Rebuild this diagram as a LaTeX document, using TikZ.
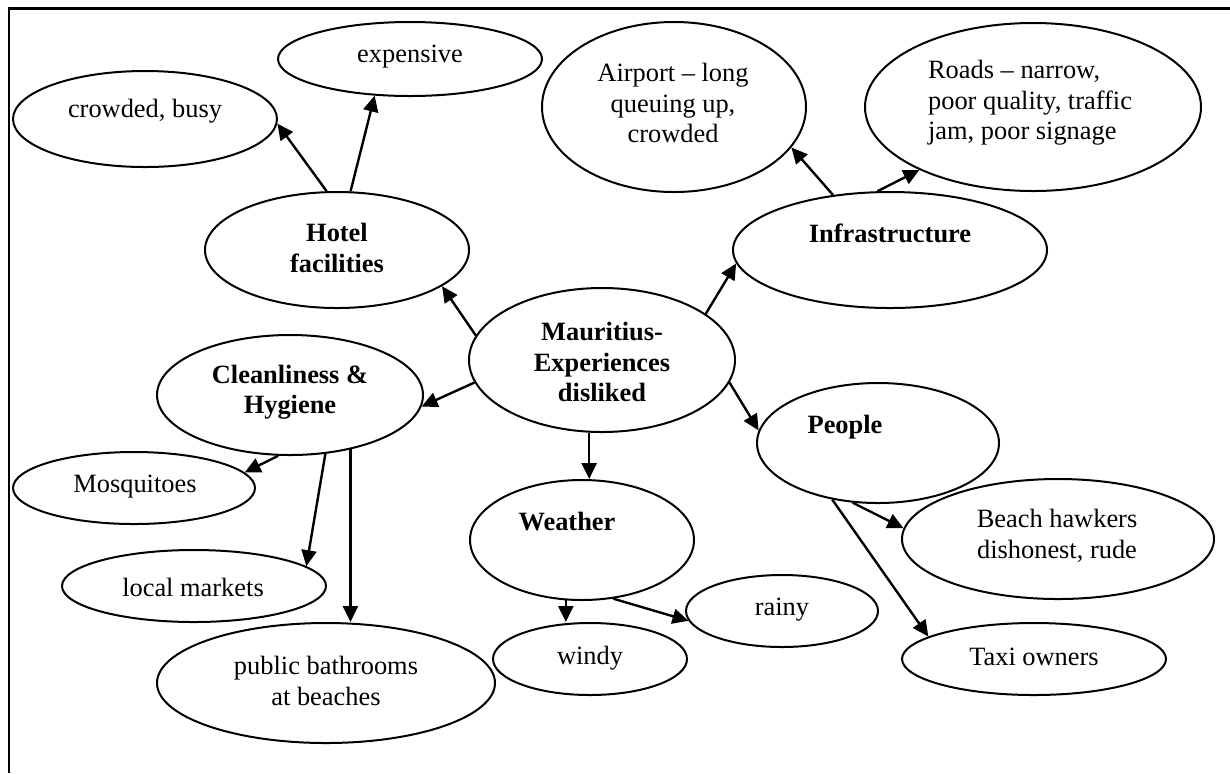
\documentclass[tikz,border=0pt]{standalone}
\usepackage{fontspec}
\setmainfont{Liberation Serif}
\usetikzlibrary{shapes.geometric,arrows.meta}
\begin{document}
\begin{tikzpicture}[x=0.5pt,y=-0.5pt,
  bubble/.style={ellipse,draw,line width=1pt,inner sep=0pt},
  lbl/.style={font=\fontsize{13.2}{15.2}\selectfont,align=center,inner sep=0pt},
  hd/.style={lbl,font=\fontsize{13.2}{15.2}\selectfont\bfseries},
  link/.style={line width=1.2pt,-{Triangle[length=8pt,width=7.5pt]}}]
\useasboundingbox (0,0) rectangle (1230,773);
% frame (top and left edges only)
\draw[line width=1.3pt] (1230,8.5) -- (9,8.5) -- (9,773);

% ellipses (minimum width/height in pt = radius in px)
\node[bubble,minimum width=132pt,minimum height=37pt] (exp)     at (410,59)  {};
\node[bubble,minimum width=132pt,minimum height=48pt] (crowd)   at (145,119) {};
\node[bubble,minimum width=132pt,minimum height=58pt] (hotel)   at (337,250) {};
\node[bubble,minimum width=132pt,minimum height=85pt] (airport) at (674,107) {};
\node[bubble,minimum width=168pt,minimum height=84pt] (roads)   at (1033,107) {};
\node[bubble,minimum width=157pt,minimum height=58pt] (infra)   at (890,250) {};
\node[bubble,minimum width=133pt,minimum height=72pt] (main)    at (602,360) {};
\node[bubble,minimum width=133pt,minimum height=60pt] (clean)   at (290,395) {};
\node[bubble,minimum width=121pt,minimum height=36pt] (mosq)    at (134,488) {};
\node[bubble,minimum width=132pt,minimum height=36pt] (markets) at (194,586) {};
\node[bubble,minimum width=169pt,minimum height=60pt] (public)  at (326,683) {};
\node[bubble,minimum width=112pt,minimum height=60pt] (weather) at (582,540) {};
\node[bubble,minimum width=97pt,minimum height=36pt]  (windy)   at (590,659) {};
\node[bubble,minimum width=96pt,minimum height=36pt]  (rainy)   at (782,611) {};
\node[bubble,minimum width=121pt,minimum height=60pt] (people)  at (878,443) {};
\node[bubble,minimum width=156pt,minimum height=60pt] (beach)   at (1058,539) {};
\node[bubble,minimum width=132pt,minimum height=36pt] (taxi)    at (1034,659) {};

% labels
\node[lbl] (exp-t)     at (410,57)  {expensive};
\node[lbl] (crowd-t)   at (145,111) {crowded, busy};
\node[hd]  (hotel-t)   at (337,248) {Hotel\\facilities};
\node[lbl] (airport-t) at (673,103) {Airport – long\\queuing up,\\crowded};
\node[lbl,align=left] (roads-t) at (1030,103) {Roads – narrow,\\poor quality, traffic\\jam, poor signage};
\node[hd]  (infra-t)   at (890,233) {Infrastructure};
\node[hd]  (main-t)    at (602,362) {Mauritius-\\Experiences\\disliked};
\node[hd]  (clean-t)   at (290,392) {Cleanliness \&\\Hygiene};
\node[lbl] (mosq-t)    at (135,487) {Mosquitoes};
\node[lbl] (markets-t) at (193,587) {local markets};
\node[lbl] (public-t)  at (326,681) {public bathrooms\\at beaches};
\node[hd]  (weather-t) at (567,522) {Weather};
\node[lbl] (windy-t)   at (590,658) {windy};
\node[lbl] (rainy-t)   at (782,610) {rainy};
\node[hd]  (people-t)  at (845,427) {People};
\node[lbl] (beach-t)   at (1057,536) {Beach hawkers\\dishonest, rude};
\node[lbl] (taxi-t)    at (1034,657) {Taxi owners};

% connectors
\draw[link] (main.169) -- (hotel.-19);
\draw[link] (main.24)  -- (infra.185);
\draw[link] (main.190) -- (clean.-5);
\draw[link] (main.260) -- (main.260 |- weather.north);
\draw[link] (main.-10) -- (people.174);
\draw[link] (hotel.100) -- (crowd.-2);
\draw[link] (hotel.77)  -- (exp.226);
\draw[link] (infra.136) -- (airport.-19);
\draw[link] (infra.102) -- (roads.209);
\draw[link] (clean.259) -- (mosq.8);
\draw[link] (clean.-59) -- (markets.10);
\draw[link] (clean.-42) -- (clean.-42 |- public.north);
\draw[link] (weather.255) -- (weather.255 |- windy.north);
\draw[link] (weather.-62) -- (rainy.186);
\draw[link] (people.247) -- (beach.176);
\draw[link] (people.231) -- (taxi.168);
\end{tikzpicture}
\end{document}
